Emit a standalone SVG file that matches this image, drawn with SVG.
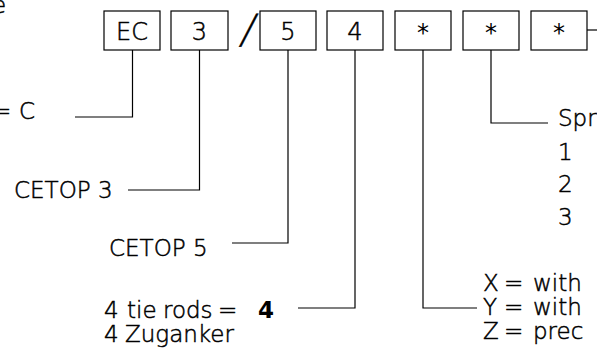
<svg xmlns="http://www.w3.org/2000/svg" width="597" height="360" viewBox="0 0 597 360">
<style>
.box{fill:#fff;stroke:#000;stroke-width:1.2}
.con{fill:none;stroke:#000;stroke-width:1.2}
text{font-family:"DejaVu Sans","Liberation Sans",sans-serif;font-weight:200;fill:#000;stroke:#000;stroke-width:0.5;font-size:23px}
.bt{font-size:24px;text-anchor:middle}
.st{font-size:24px;text-anchor:middle;font-weight:normal;stroke-width:0}
.b{font-weight:bold;stroke-width:0}
</style>
<rect width="597" height="360" fill="#fff"/>
<text x="-8" y="13">e</text>
<g id="n-ec"><rect class="box" x="104" y="11" width="56" height="39"/><text class="bt" x="132" y="40">EC</text></g>
<g id="n-3"><rect class="box" x="171" y="11" width="57" height="39"/><text class="bt" x="199.5" y="40">3</text></g>
<text transform="translate(246,43) skewX(-12)" x="0" y="0" style="font-size:40px;text-anchor:middle">/</text>
<g id="n-5"><rect class="box" x="260" y="11" width="56" height="39"/><text class="bt" x="288" y="40">5</text></g>
<g id="n-4"><rect class="box" x="327" y="11" width="56" height="39"/><text class="bt" x="355" y="40">4</text></g>
<g id="n-s1"><rect class="box" x="395" y="11" width="56" height="39"/><text class="st" x="423" y="41">*</text></g>
<g id="n-s2"><rect class="box" x="463" y="11" width="56" height="39"/><text class="st" x="491" y="41">*</text></g>
<g id="n-s3"><rect class="box" x="531" y="11" width="56" height="39"/><text class="st" x="559" y="41">*</text></g>
<g id="connectors">
<polyline class="con" points="132.5,50 132.5,117 75,117"/>
<polyline class="con" points="199.5,50 199.5,190 128,190"/>
<polyline class="con" points="288,50 288,243 232,243"/>
<polyline class="con" points="355,50 355,308 298,308"/>
<polyline class="con" points="423,50 423,308 477,308"/>
<polyline class="con" points="491,50 491,123 548,123"/>
<line class="con" x1="587" y1="30" x2="597" y2="30"/>
</g>
<g id="labels">
<text y="119"><tspan x="-8">=</tspan><tspan x="19">C</tspan></text>
<text x="14" y="198">CETOP 3</text>
<text x="109" y="256">CETOP 5</text>
<text y="318"><tspan x="104">4</tspan><tspan x="127">tie</tspan><tspan x="163">rods</tspan><tspan x="218">=</tspan><tspan x="258" class="b">4</tspan></text>
<text y="342"><tspan x="104">4</tspan><tspan x="125">Zuganker</tspan></text>
<text x="558" y="126">Spr</text>
<text x="558" y="160">1</text>
<text x="558" y="192">2</text>
<text x="558" y="225">3</text>
<text y="291"><tspan x="483">X</tspan><tspan x="504">=</tspan><tspan x="533">with</tspan></text>
<text y="315"><tspan x="483">Y</tspan><tspan x="504">=</tspan><tspan x="533">with</tspan></text>
<text y="339"><tspan x="483">Z</tspan><tspan x="504">=</tspan><tspan x="533">prec</tspan></text>
</g>
</svg>
